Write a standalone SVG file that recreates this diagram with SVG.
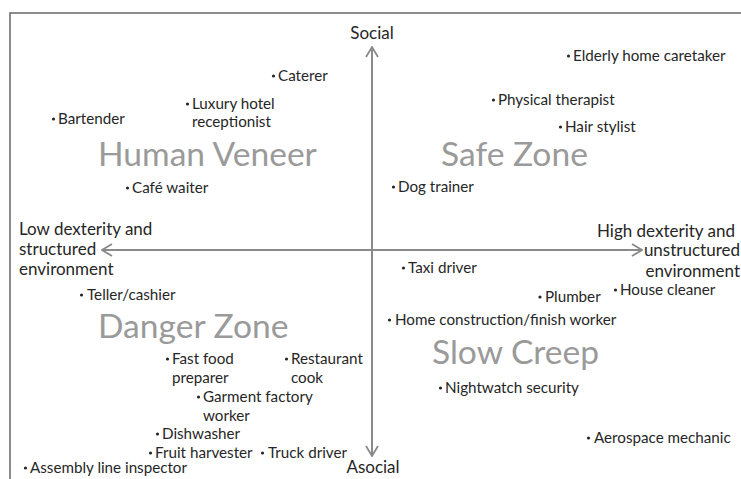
<svg xmlns="http://www.w3.org/2000/svg" width="741" height="479" viewBox="0 0 741 479">
  <style>
    .lbl { font-family: Lato, "Open Sans", "Liberation Sans", sans-serif; font-size: 15.2px; fill: #262626; }
    .axis-lbl { font-family: Lato, "Open Sans", "Liberation Sans", sans-serif; font-size: 17px; fill: #262626; }
    .zone { font-family: Lato, "Open Sans", "Liberation Sans", sans-serif; font-size: 33.6px; fill: #9a9a9a; }
    .dot { fill: #262626; }
    .axis { stroke: #8a8a8a; stroke-width: 2; fill: none; }
  </style>
  <defs>
    <marker id="chev" viewBox="0 0 12 14" refX="11" refY="7" markerWidth="12" markerHeight="14" markerUnits="userSpaceOnUse" orient="auto">
      <polyline points="1,1 11,7 1,13" fill="none" stroke="#8a8a8a" stroke-width="1.8"/>
    </marker>
  </defs>

  <rect width="741" height="479" fill="#ffffff"/>
  <!-- outer frame: only left and top edges fall inside the canvas -->
  <rect x="10" y="13" width="800" height="520" fill="none" stroke="#707070" stroke-width="1.6"/>

  <g id="connectors">
    <line class="axis" x1="372" y1="250" x2="372" y2="47" marker-end="url(#chev)"/>
    <line class="axis" x1="372" y1="250" x2="372" y2="456" marker-end="url(#chev)"/>
    <line class="axis" x1="372" y1="250" x2="102" y2="250" marker-end="url(#chev)"/>
    <line class="axis" x1="372" y1="250" x2="642" y2="250" marker-end="url(#chev)"/>
  </g>

  <g id="axis-social"><text class="axis-lbl" x="372" y="39" text-anchor="middle">Social</text></g>
  <g id="axis-asocial"><text class="axis-lbl" x="373" y="473" text-anchor="middle">Asocial</text></g>
  <g id="axis-low">
    <text class="axis-lbl" x="19" y="235">Low dexterity and</text>
    <text class="axis-lbl" x="19" y="255">structured</text>
    <text class="axis-lbl" x="19" y="275">environment</text>
  </g>
  <g id="axis-high">
    <text class="axis-lbl" x="735" y="237" text-anchor="end">High dexterity and</text>
    <text class="axis-lbl" x="740" y="256" text-anchor="end">unstructured</text>
    <text class="axis-lbl" x="740" y="277" text-anchor="end">environment</text>
  </g>

  <g id="zone-human-veneer"><text class="zone" x="98" y="166">Human Veneer</text></g>
  <g id="zone-safe"><text class="zone" x="441" y="166">Safe Zone</text></g>
  <g id="zone-danger"><text class="zone" x="98" y="338">Danger Zone</text></g>
  <g id="zone-slow-creep"><text class="zone" x="432" y="364">Slow Creep</text></g>

  <g id="job-caterer"><circle class="dot" cx="273.5" cy="76" r="1.6"/><text class="lbl" x="278" y="81">Caterer</text></g>
  <g id="job-luxury-hotel"><circle class="dot" cx="187.5" cy="104" r="1.6"/><text class="lbl" x="192" y="109">Luxury hotel</text><text class="lbl" x="192" y="127">receptionist</text></g>
  <g id="job-bartender"><circle class="dot" cx="53.5" cy="119" r="1.6"/><text class="lbl" x="58" y="124">Bartender</text></g>
  <g id="job-elderly"><circle class="dot" cx="568.5" cy="56" r="1.6"/><text class="lbl" x="573" y="61">Elderly home caretaker</text></g>
  <g id="job-physical"><circle class="dot" cx="493.5" cy="100" r="1.6"/><text class="lbl" x="498" y="105">Physical therapist</text></g>
  <g id="job-hair"><circle class="dot" cx="560.5" cy="127" r="1.6"/><text class="lbl" x="565" y="132">Hair stylist</text></g>
  <g id="job-cafe"><circle class="dot" cx="127.5" cy="188" r="1.6"/><text class="lbl" x="132" y="193">Café waiter</text></g>
  <g id="job-dog"><circle class="dot" cx="393.5" cy="187" r="1.6"/><text class="lbl" x="398" y="192">Dog trainer</text></g>
  <g id="job-taxi"><circle class="dot" cx="403.5" cy="268" r="1.6"/><text class="lbl" x="408" y="273">Taxi driver</text></g>
  <g id="job-teller"><circle class="dot" cx="81.5" cy="295" r="1.6"/><text class="lbl" x="87" y="300">Teller/cashier</text></g>
  <g id="job-plumber"><circle class="dot" cx="540" cy="297" r="1.6"/><text class="lbl" x="545" y="302">Plumber</text></g>
  <g id="job-house"><circle class="dot" cx="615.5" cy="290" r="1.6"/><text class="lbl" x="620" y="295">House cleaner</text></g>
  <g id="job-home-construction"><circle class="dot" cx="389.5" cy="320" r="1.6"/><text class="lbl" x="395" y="325">Home construction/finish worker</text></g>
  <g id="job-fast-food"><circle class="dot" cx="167.5" cy="359" r="1.6"/><text class="lbl" x="172" y="364">Fast food</text><text class="lbl" x="172" y="383">preparer</text></g>
  <g id="job-restaurant"><circle class="dot" cx="286.5" cy="359" r="1.6"/><text class="lbl" x="291" y="364">Restaurant</text><text class="lbl" x="291" y="383">cook</text></g>
  <g id="job-garment"><circle class="dot" cx="198.5" cy="397" r="1.6"/><text class="lbl" x="203" y="402">Garment factory</text><text class="lbl" x="203" y="421">worker</text></g>
  <g id="job-nightwatch"><circle class="dot" cx="440.5" cy="388" r="1.6"/><text class="lbl" x="445" y="393">Nightwatch security</text></g>
  <g id="job-dishwasher"><circle class="dot" cx="157.5" cy="434" r="1.6"/><text class="lbl" x="162" y="439">Dishwasher</text></g>
  <g id="job-fruit"><circle class="dot" cx="150.5" cy="453" r="1.6"/><text class="lbl" x="155" y="458">Fruit harvester</text></g>
  <g id="job-truck"><circle class="dot" cx="262.5" cy="453" r="1.6"/><text class="lbl" x="268" y="458">Truck driver</text></g>
  <g id="job-assembly"><circle class="dot" cx="25.5" cy="468" r="1.6"/><text class="lbl" x="30" y="473">Assembly line inspector</text></g>
  <g id="job-aerospace"><circle class="dot" cx="588.5" cy="438" r="1.6"/><text class="lbl" x="594" y="443">Aerospace mechanic</text></g>
</svg>
